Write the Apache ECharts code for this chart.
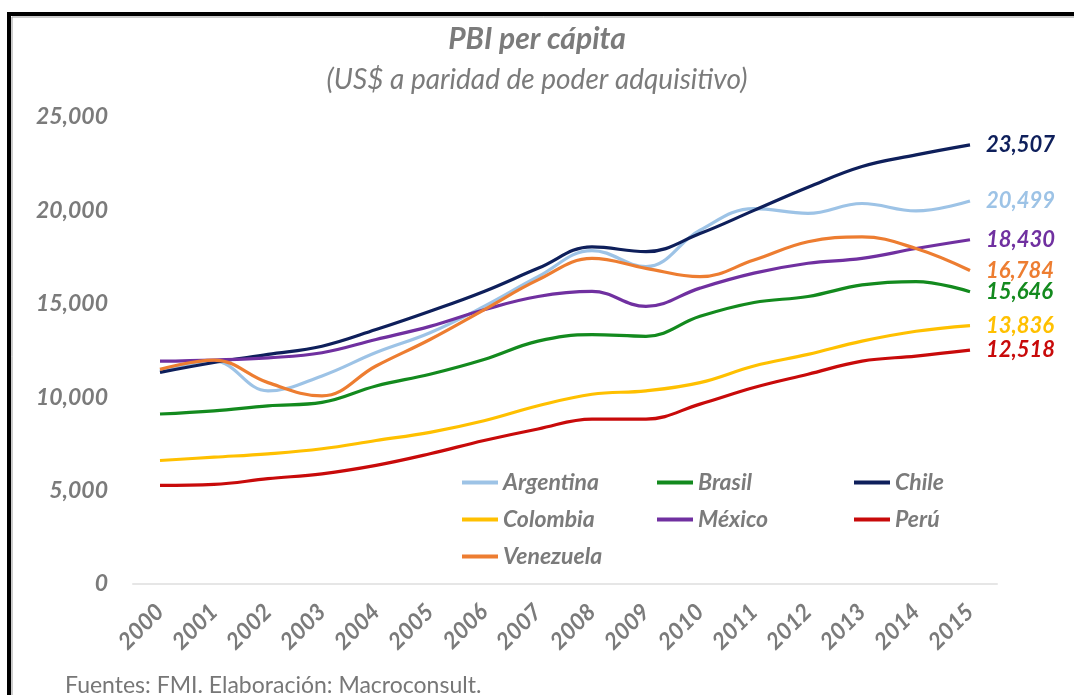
<!DOCTYPE html>
<html>
<head>
<meta charset="utf-8">
<script src="https://cdn.jsdelivr.net/npm/echarts@6/dist/echarts.min.js"></script>
<style>
html,body{margin:0;padding:0;background:#fff;}
#chart{width:1074px;height:695px;}
</style>
</head>
<body>
<div id="chart"></div>
<script>
const years = ['2000','2001','2002','2003','2004','2005','2006','2007','2008','2009','2010','2011','2012','2013','2014','2015'];
const yTicks = [0, 5000, 10000, 15000, 20000, 25000];
const argentina = [11400, 11930, 10340, 11140, 12390, 13450, 14860, 16450, 17850, 16990, 18940, 20100, 19840, 20370, 19970, 20499];
const brasil    = [9100, 9270, 9540, 9720, 10600, 11230, 12020, 13000, 13350, 13260, 14330, 15070, 15390, 16010, 16190, 15646];
const chile     = [11330, 11860, 12290, 12730, 13620, 14600, 15660, 16900, 18050, 17790, 18760, 20000, 21240, 22350, 22970, 23507];
const colombia  = [6610, 6790, 6970, 7240, 7680, 8120, 8740, 9540, 10160, 10340, 10780, 11670, 12290, 13000, 13530, 13836];
const mexico    = [11930, 11990, 12110, 12380, 13090, 13790, 14680, 15390, 15660, 14860, 15840, 16640, 17170, 17430, 17960, 18430];
const peru      = [5280, 5330, 5640, 5900, 6350, 6970, 7680, 8300, 8830, 8830, 9630, 10520, 11230, 11930, 12200, 12518];
const venezuela = [11490, 11990, 10780, 10070, 11670, 13090, 14680, 16280, 17430, 16900, 16450, 17340, 18320, 18580, 17960, 16784];

const seriesDefs = [
  {name:'Argentina', data:argentina, color:'#9DC3E6'},
  {name:'Brasil', data:brasil, color:'#138A1E'},
  {name:'Chile', data:chile, color:'#0E1F5B'},
  {name:'Colombia', data:colombia, color:'#FFC000'},
  {name:'México', data:mexico, color:'#7030A0'},
  {name:'Perú', data:peru, color:'#C80A0A'},
  {name:'Venezuela', data:venezuela, color:'#ED7D31'}
];

const FONT = 'Lato';
const GREY = '#7b7b7b';
function fmt(v){ return String(v).replace(/\B(?=(\d{3})+(?!\d))/g, ','); }

const chart = echarts.init(document.getElementById('chart'), null, {renderer:'canvas'});

const legendText = {fontFamily:FONT, fontStyle:'italic', fontWeight:'bold', fontSize:23, color:GREY};
function legendCol(names, left){
  return {
    data:names, left:left, top:466, orient:'vertical', itemGap:14,
    icon:'rect', itemWidth:36, itemHeight:4,
    textStyle:legendText, selectedMode:false
  };
}

chart.setOption({
  backgroundColor:'#fff',
  animation:false,
  title:[
    {text:'PBI per cápita', left:'center', top:19,
     textStyle:{fontFamily:FONT, fontStyle:'italic', fontWeight:'bold', fontSize:30, color:GREY}},
    {text:'(US$ a paridad de poder adquisitivo)', left:'center', top:61,
     textStyle:{fontFamily:FONT, fontStyle:'italic', fontWeight:'normal', fontSize:28, color:GREY}},
    {text:'Fuentes: FMI. Elaboración: Macroconsult.', left:60, top:669,
     textStyle:{fontFamily:FONT, fontWeight:'normal', fontSize:23, color:'#777'}}
  ],
  legend:[
    legendCol(['Argentina','Colombia','Venezuela'], 457),
    legendCol(['Brasil','México'], 652),
    legendCol(['Chile','Perú'], 849)
  ],
  grid:{left:133, right:77, top:117, bottom:111, containLabel:false},
  xAxis:{
    type:'category', data:years, boundaryGap:true,
    axisLine:{show:true, lineStyle:{color:'#e6e6e6', width:2}},
    axisTick:{show:false},
    axisLabel:{rotate:45, margin:24, interval:0, fontFamily:FONT, fontStyle:'italic', fontWeight:'bold', fontSize:23, color:GREY}
  },
  yAxis:{
    type:'value', min:yTicks[0], max:yTicks[yTicks.length-1], interval:5000,
    axisLine:{show:false}, axisTick:{show:false}, splitLine:{show:false},
    axisLabel:{margin:25, fontFamily:FONT, fontStyle:'italic', fontWeight:'bold', fontSize:23, color:GREY, formatter:v=>fmt(v)}
  },
  graphic:[
    {type:'rect', shape:{x:9, y:14, width:1100, height:720}, style:{fill:'none', stroke:'#000', lineWidth:4}, silent:true},
    {type:'rect', shape:{x:12, y:17, width:1100, height:720}, style:{fill:'none', stroke:'#999', lineWidth:1}, silent:true}
  ],
  series: seriesDefs.map(s => ({
    name:s.name, type:'line', data:s.data, smooth:0.4, symbol:'none',
    color:s.color,
    lineStyle:{width:3.2, color:s.color},
    endLabel:{show:true, distance:16, formatter:p=>fmt(p.value),
      fontFamily:FONT, fontStyle:'italic', fontWeight:'bold', fontSize:22, color:s.color}
  }))
});
</script>
</body>
</html>
